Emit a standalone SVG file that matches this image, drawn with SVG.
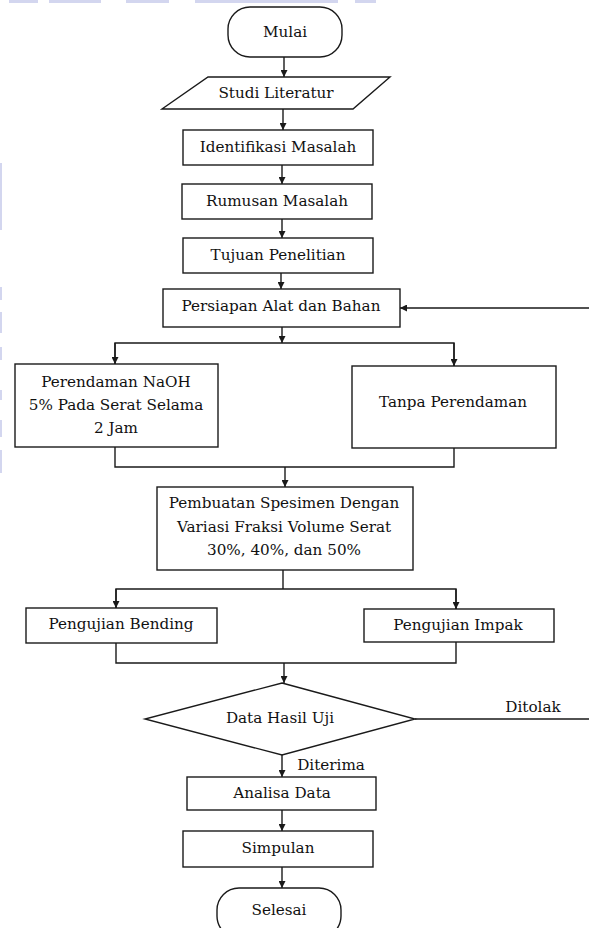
<svg xmlns="http://www.w3.org/2000/svg" width="589" height="928" viewBox="0 0 589 928">
<style>
.box{fill:#fff;stroke:#1a1a1a;stroke-width:1.4}
.ln{fill:none;stroke:#1a1a1a;stroke-width:1.4}
.t{font-family:"DejaVu Serif","Liberation Serif",serif;font-size:15.2px;fill:#111;text-anchor:middle;dominant-baseline:central}
.art{fill:#d3d6ef}
</style>
<defs>
<marker id="ah" viewBox="0 0 10 10" refX="10" refY="5" markerWidth="7" markerHeight="7" markerUnits="userSpaceOnUse" orient="auto">
<path d="M0,0 L10,5 L0,10 z" fill="#1a1a1a"/>
</marker>
</defs>
<rect width="589" height="928" fill="#fff"/>
<g id="scan-edges">
<rect class="art" x="9" y="0" width="29" height="3"/>
<rect class="art" x="49" y="0" width="52" height="3"/>
<rect class="art" x="126" y="0" width="43" height="3"/>
<rect class="art" x="195" y="0" width="143" height="3"/>
<rect class="art" x="355" y="0" width="21" height="3"/>
<rect class="art" x="0" y="163" width="2" height="67"/>
<rect class="art" x="0" y="287" width="2" height="13"/>
<rect class="art" x="0" y="312" width="2" height="21"/>
<rect class="art" x="0" y="347" width="2" height="13"/>
<rect class="art" x="0" y="390" width="2" height="10"/>
<rect class="art" x="0" y="420" width="2" height="17"/>
<rect class="art" x="0" y="450" width="2" height="23"/>
</g>
<g id="connectors">
<line class="ln" x1="284" y1="57" x2="284" y2="77" marker-end="url(#ah)"/>
<line class="ln" x1="283" y1="109" x2="283" y2="130" marker-end="url(#ah)"/>
<line class="ln" x1="282" y1="165" x2="282" y2="184" marker-end="url(#ah)"/>
<line class="ln" x1="282" y1="219" x2="282" y2="238" marker-end="url(#ah)"/>
<line class="ln" x1="281" y1="273" x2="281" y2="289" marker-end="url(#ah)"/>
<line class="ln" x1="282" y1="327" x2="282" y2="343" marker-end="url(#ah)"/>
<polyline class="ln" points="115,364 115,343 454,343 454,366"/>
<line class="ln" x1="115" y1="343" x2="115" y2="364" marker-end="url(#ah)"/>
<line class="ln" x1="454" y1="343" x2="454" y2="366" marker-end="url(#ah)"/>
<polyline class="ln" points="115,447 115,467 454,467 454,448"/>
<line class="ln" x1="285" y1="467" x2="285" y2="487" marker-end="url(#ah)"/>
<line class="ln" x1="283" y1="570" x2="283" y2="589"/>
<polyline class="ln" points="116,608 116,589 456,589 456,609"/>
<line class="ln" x1="116" y1="589" x2="116" y2="608" marker-end="url(#ah)"/>
<line class="ln" x1="456" y1="589" x2="456" y2="609" marker-end="url(#ah)"/>
<polyline class="ln" points="116,643 116,663 456,663 456,642"/>
<line class="ln" x1="284" y1="663" x2="284" y2="683" marker-end="url(#ah)"/>
<line class="ln" x1="282" y1="755" x2="282" y2="777" marker-end="url(#ah)"/>
<line class="ln" x1="282" y1="810" x2="282" y2="831" marker-end="url(#ah)"/>
<line class="ln" x1="282" y1="867" x2="282" y2="888" marker-end="url(#ah)"/>
<polyline class="ln" points="415,719 594,719 594,308 400,308" marker-end="url(#ah)"/>
<text class="t" x="533" y="707">Ditolak</text>
<text class="t" x="331" y="765">Diterima</text>
</g>
<g id="mulai">
<rect class="box" x="228" y="7" width="114" height="50" rx="22" ry="22"/>
<text class="t" x="285" y="32">Mulai</text>
</g>
<g id="studi-literatur">
<polygon class="box" points="208,77 390,77 353,109 162,109"/>
<text class="t" x="276" y="93">Studi Literatur</text>
</g>
<g id="identifikasi">
<rect class="box" x="183" y="130" width="190" height="35"/>
<text class="t" x="278" y="147">Identifikasi Masalah</text>
</g>
<g id="rumusan">
<rect class="box" x="182" y="184" width="190" height="35"/>
<text class="t" x="277" y="201">Rumusan Masalah</text>
</g>
<g id="tujuan">
<rect class="box" x="183" y="238" width="190" height="35"/>
<text class="t" x="278" y="255">Tujuan Penelitian</text>
</g>
<g id="persiapan">
<rect class="box" x="163" y="289" width="237" height="38"/>
<text class="t" x="281" y="306">Persiapan Alat dan Bahan</text>
</g>
<g id="perendaman">
<rect class="box" x="15" y="364" width="203" height="83"/>
<text class="t" x="116" y="382">Perendaman NaOH</text>
<text class="t" x="116" y="405">5% Pada Serat Selama</text>
<text class="t" x="116" y="428">2 Jam</text>
</g>
<g id="tanpa">
<rect class="box" x="352" y="366" width="204" height="82"/>
<text class="t" x="453" y="402">Tanpa Perendaman</text>
</g>
<g id="pembuatan">
<rect class="box" x="157" y="487" width="256" height="83"/>
<text class="t" x="284" y="503">Pembuatan Spesimen Dengan</text>
<text class="t" x="284" y="527">Variasi Fraksi Volume Serat</text>
<text class="t" x="284" y="550">30%, 40%, dan 50%</text>
</g>
<g id="bending">
<rect class="box" x="26" y="608" width="191" height="35"/>
<text class="t" x="121" y="624">Pengujian Bending</text>
</g>
<g id="impak">
<rect class="box" x="364" y="609" width="190" height="33"/>
<text class="t" x="458" y="625">Pengujian Impak</text>
</g>
<g id="data-hasil-uji">
<polygon class="box" points="282,683 415,719 282,755 145,719"/>
<text class="t" x="280" y="718">Data Hasil Uji</text>
</g>
<g id="analisa">
<rect class="box" x="187" y="777" width="189" height="33"/>
<text class="t" x="282" y="793">Analisa Data</text>
</g>
<g id="simpulan">
<rect class="box" x="183" y="831" width="190" height="36"/>
<text class="t" x="278" y="848">Simpulan</text>
</g>
<g id="selesai">
<rect class="box" x="217" y="888" width="124" height="50" rx="22" ry="22"/>
<text class="t" x="279" y="910">Selesai</text>
</g>
</svg>
